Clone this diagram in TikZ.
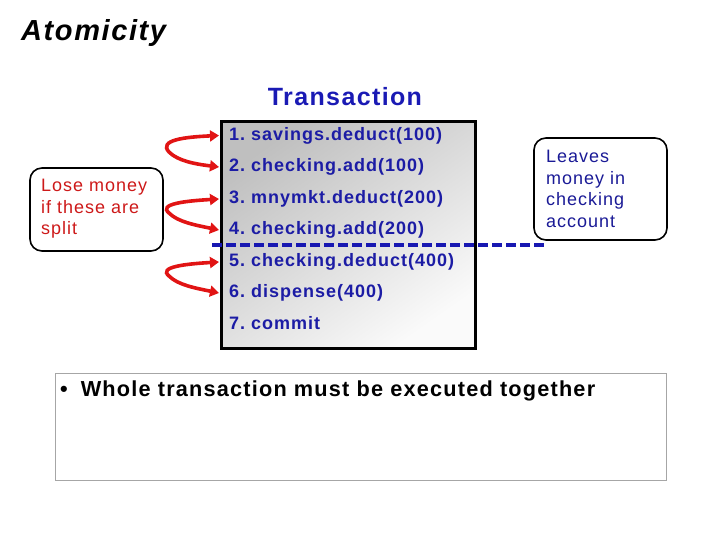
\documentclass[tikz,border=0pt]{standalone}
\usepackage{fontspec}
\setmainfont{Liberation Sans}[LetterSpace=5.5]
\usetikzlibrary{arrows.meta}
\definecolor{itemblue}{RGB}{28,28,165}
\definecolor{titleblue}{RGB}{26,26,180}
\definecolor{noteblue}{RGB}{26,26,150}
\definecolor{notered}{RGB}{205,25,25}
\definecolor{arrred}{RGB}{225,20,20}
\tikzset{
  item/.style={anchor=west,inner sep=0pt,text=itemblue,font=\fontsize{18}{20}\selectfont\bfseries},
  note/.style={draw=black,line width=1.6pt,rounded corners=12pt,minimum width=133pt,inner sep=0pt},
  notetext/.style={anchor=north west,inner sep=0pt,align=left,font=\fontsize{18}{21.7}\selectfont},
  swap/.style={draw=arrred,line width=3.6pt,{Triangle[length=9pt,width=11pt]}-{Triangle[length=9pt,width=11pt]}}
}
\begin{document}
\frenchspacing
\begin{tikzpicture}[x=1pt,y=-1pt]
\useasboundingbox (0,0) rectangle (720,540);
% title
\node[anchor=west,inner sep=0pt,font=\fontsize{29}{31}\selectfont\bfseries\itshape] (atom) at (21,33) {Atomicity};
\node[inner sep=0pt,text=titleblue,font=\fontsize{25}{28}\selectfont\bfseries] (trans) at (345,97) {Transaction};
% main box
\path[draw=black,line width=3pt,top color=gray!50,bottom color=gray!4,shading angle=35] (221,122) rectangle (475,348);
\node[item] (i1) at (229,135.5) {1. savings.deduct(100)};
\node[item] (i2) at (229,167) {2. checking.add(100)};
\node[item] (i3) at (229,199) {3. mnymkt.deduct(200)};
\node[item] (i4) at (229,230) {4. checking.add(200)};
\node[item] (i5) at (229,262) {5. checking.deduct(400)};
\node[item] (i6) at (229,293) {6. dispense(400)};
\node[item] (i7) at (229,323) {7. commit};
% dashed separator
\coordinate (dl) at (212,245);
\coordinate (dr) at (544,245);
\draw[draw=itemblue!85!blue,line width=3.5pt,dash pattern=on 10pt off 4pt] (dl) -- (dr);
% notes
\node[note,minimum height=83pt] (lose) at (96.5,209.5) {};
\node[notetext,text=notered] (losetxt) at (41,179) {Lose money\\if these are\\split};
\node[note,minimum height=102pt] (leaves) at (600.5,189) {};
\node[notetext,text=noteblue] (leavestxt) at (546,150) {Leaves\\money in\\checking\\account};
% red arrows
\draw[swap] ([xshift=-10pt]i1.west) .. controls (185,137) and (158,140) .. (169,152) .. controls (178,161) and (195,164) .. ([xshift=-10pt]i2.west);
\draw[swap] ([xshift=-10pt]i3.west) .. controls (185,201) and (158,204) .. (169,213) .. controls (178,222) and (195,225) .. ([xshift=-10pt]i4.west);
\draw[swap] ([xshift=-10pt]i5.west) .. controls (185,264) and (158,267) .. (169,276) .. controls (178,285) and (195,288) .. ([xshift=-10pt]i6.west);
% bottom box
\node[draw=gray!70,line width=0.8pt,minimum width=611pt,minimum height=107pt,inner sep=0pt] (bottom) at (360.5,426.5) {};
\node[anchor=west,inner sep=0pt,font=\fontsize{21.7}{24}\selectfont\bfseries] (bullet) at (60,390.5) {\textbullet\hspace{13pt}Whole transaction must be executed together};
\end{tikzpicture}
\end{document}
